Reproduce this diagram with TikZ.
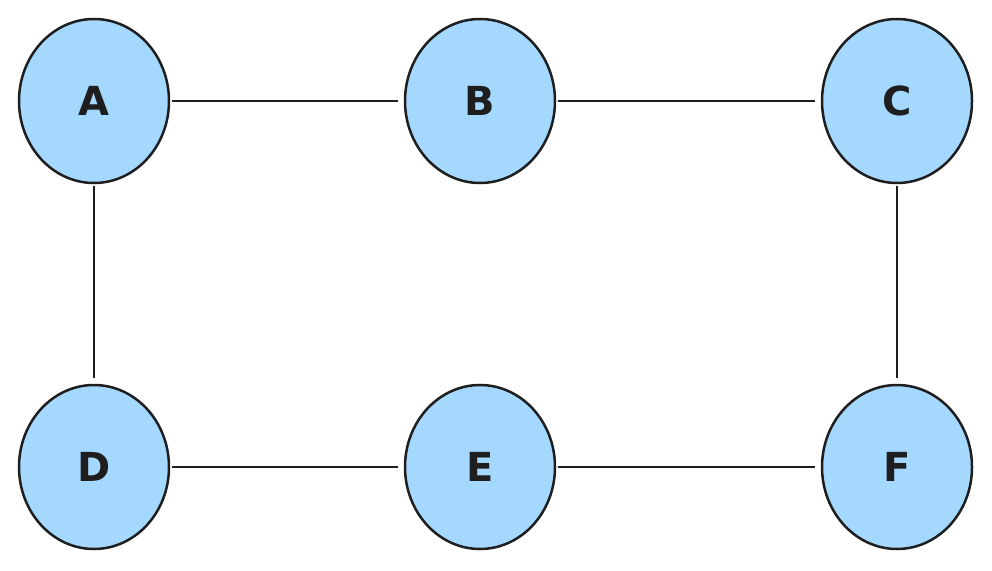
\documentclass[tikz,border=0pt]{standalone}
\usepackage{fontspec}
\setmainfont{DejaVu Sans}
\usetikzlibrary{shapes.geometric}
\definecolor{nodefill}{HTML}{A5D8FF}
\definecolor{ink}{HTML}{1E1E1E}
\begin{document}
\begin{tikzpicture}[x=1pt,y=-1pt,
  vert/.style={ellipse,draw=ink,line width=2.5pt,fill=nodefill,minimum width=150pt,minimum height=164pt,inner sep=0pt,font=\fontsize{40}{40}\selectfont\bfseries,text=ink},
  edge/.style={draw=ink,line width=2.5pt,shorten <=2pt,shorten >=6pt}]
\useasboundingbox (0,0) rectangle (992,570);
\node[vert] (A) at (94,101) {A};
\node[vert] (B) at (480,101) {B};
\node[vert] (C) at (897,101) {C};
\node[vert] (D) at (94,467) {D};
\node[vert] (E) at (480,467) {E};
\node[vert] (F) at (897,467) {F};
\draw[edge] (A) -- (B);
\draw[edge] (B) -- (C);
\draw[edge] (A) -- (D);
\draw[edge] (D) -- (E);
\draw[edge] (E) -- (F);
\draw[edge] (C) -- (F);
\end{tikzpicture}
\end{document}
